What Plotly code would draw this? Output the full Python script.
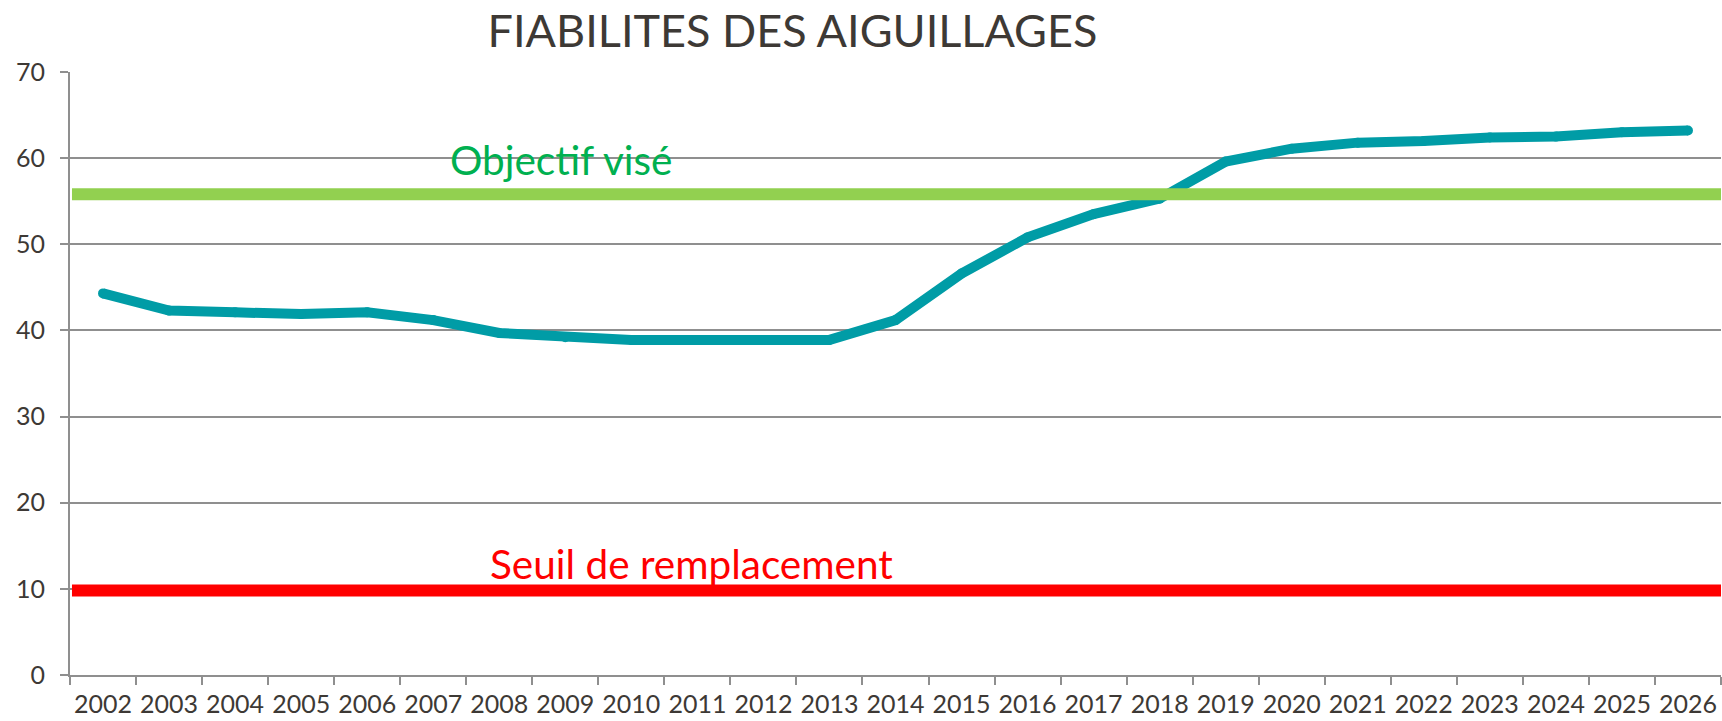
import plotly.graph_objects as go

# Reliability index of railway switches, per year
years = [str(y) for y in range(2002, 2027)]
fiabilite = [44.3, 42.3, 42.1, 41.9, 42.1, 41.2, 39.7, 39.2, 38.9, 38.9,
             38.9, 38.9, 41.2, 46.6, 50.8, 53.5, 55.3, 59.6, 61.1, 61.8,
             62.0, 62.4, 62.5, 63.0, 63.2]

objectif_vise = 55.8
seuil_remplacement = 9.8

y_ticks = [0, 10, 20, 30, 40, 50, 60, 70]

TXT = "#3D3935"
GRID = "#8F8F8F"
FONT = "Lato"

fig = go.Figure()

fig.add_trace(go.Scatter(
    x=years, y=fiabilite, mode="lines+markers",
    line=dict(color="#009CA6", width=10),
    marker=dict(color="#009CA6", size=10, line=dict(width=0)),
    hoverinfo="x+y", showlegend=False,
))

# Target and replacement-threshold lines across the whole plot
fig.add_shape(type="line", xref="x domain", yref="y", x0=0.0012, x1=1,
              y0=objectif_vise, y1=objectif_vise,
              line=dict(color="#92D050", width=12), layer="above")
fig.add_shape(type="line", xref="x domain", yref="y", x0=0.0012, x1=1,
              y0=seuil_remplacement, y1=seuil_remplacement,
              line=dict(color="#FF0000", width=12), layer="above")

fig.add_annotation(text="Objectif visé", xref="x domain", yref="y",
                   x=0.2290, y=59.8, xanchor="left", yanchor="middle",
                   showarrow=False, font=dict(family=FONT, size=40.5, color="#00B050"))
fig.add_annotation(text="Seuil de remplacement", xref="x domain", yref="y",
                   x=0.2530, y=12.9, xanchor="left", yanchor="middle",
                   showarrow=False, font=dict(family=FONT, size=40.5, color="#FF0000"))

fig.update_layout(
    width=1722, height=721,
    margin=dict(l=70, r=1, t=72, b=46, autoexpand=False),
    paper_bgcolor="white", plot_bgcolor="white",
    title=dict(text="FIABILITES DES AIGUILLAGES", x=0.4602, xanchor="center",
               y=0.957, yanchor="middle", font=dict(family=FONT, size=45, color=TXT)),
    font=dict(family=FONT, color=TXT),
)

fig.update_xaxes(
    type="category", range=[-0.5, len(years) - 0.5], automargin=False,
    tickson="boundaries", ticks="outside", ticklen=8, tickwidth=2, tickcolor=GRID,
    showline=True, linecolor=GRID, linewidth=2, showgrid=False, tickangle=0,
    tickfont=dict(family=FONT, size=25, color=TXT), ticklabelstandoff=6,
)
fig.update_yaxes(
    range=[0, 70], tickvals=y_ticks, ticks="outside", ticklen=8, tickwidth=2,
    tickcolor=GRID, showline=True, linecolor=GRID, linewidth=2, automargin=False,
    showgrid=True, gridcolor=GRID, gridwidth=2, zeroline=False,
    tickfont=dict(family=FONT, size=25, color=TXT), ticklabelstandoff=10,
)

fig.write_html("out.html")
